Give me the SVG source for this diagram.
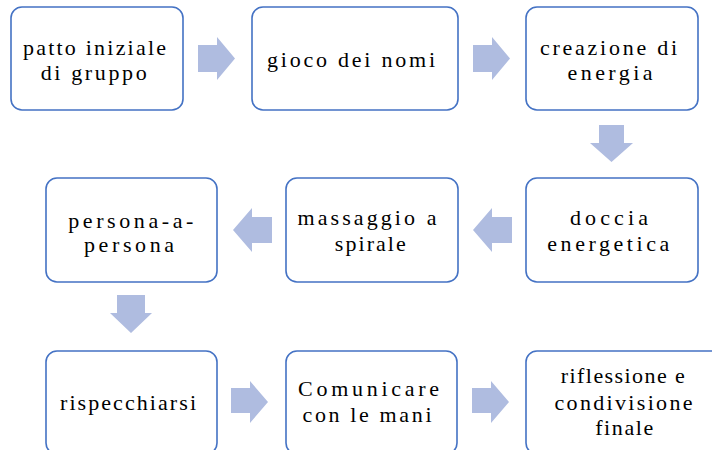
<svg xmlns="http://www.w3.org/2000/svg" width="712" height="450" viewBox="0 0 712 450">
<style>
.box{fill:#fff;stroke:#4472C4;stroke-width:1.6}
.arr{fill:#AFBCE0}
text{font-size:22px;fill:#000;text-anchor:middle}
</style>
<rect width="712" height="450" fill="#fff"/>
<g id="connectors">
<polygon class="arr" points="198,45 217,45 217,37 235,58.5 217,80 217,72 198,72"/>
<polygon class="arr" points="473,45 492,45 492,37 510,58.5 492,80 492,72 473,72"/>
<polygon class="arr" points="599,125 624,125 624,143 633,143 611.5,162 590,143 599,143"/>
<polygon class="arr" points="512,217 492,217 492,208 473,230 492,252 492,243 512,243"/>
<polygon class="arr" points="272,217 252,217 252,208 233,230 252,252 252,243 272,243"/>
<polygon class="arr" points="117,295 145,295 145,313 152,313 131,333 110,313 117,313"/>
<polygon class="arr" points="231,388 250,388 250,381 268,402 250,423 250,413 231,413"/>
<polygon class="arr" points="472,388 491,388 491,381 509,402 491,423 491,413 472,413"/>
</g>
<g font-family="Liberation Serif, Tinos, Times New Roman, Times, DejaVu Serif, Noto Serif, serif">
<g id="n1"><rect class="box" x="11" y="7" width="172" height="103" rx="11"/>
<text x="94.5" y="55" textLength="143" lengthAdjust="spacing">patto iniziale</text>
<text x="93.7" y="80" textLength="106" lengthAdjust="spacing">di gruppo</text></g>
<g id="n2"><rect class="box" x="252" y="7" width="206" height="103" rx="11"/>
<text x="351" y="67" textLength="168" lengthAdjust="spacing">gioco dei nomi</text></g>
<g id="n3"><rect class="box" x="526" y="7" width="172" height="103" rx="11"/>
<text x="608.5" y="54.5" textLength="137" lengthAdjust="spacing">creazione di</text>
<text x="610" y="79.5" textLength="85" lengthAdjust="spacing">energia</text></g>
<g id="n4"><rect class="box" x="526" y="178" width="172" height="104" rx="11"/>
<text x="609" y="225" textLength="78" lengthAdjust="spacing">doccia</text>
<text x="608.3" y="250.7" textLength="122" lengthAdjust="spacing">energetica</text></g>
<g id="n5"><rect class="box" x="286" y="178" width="172" height="104" rx="11"/>
<text x="367" y="225" textLength="139" lengthAdjust="spacing">massaggio a</text>
<text x="370.3" y="250.7" textLength="71" lengthAdjust="spacing">spirale</text></g>
<g id="n6"><rect class="box" x="46" y="178" width="171" height="104" rx="11"/>
<text x="130.8" y="228.3" textLength="125" lengthAdjust="spacing">persona-a-</text>
<text x="129" y="252.3" textLength="90" lengthAdjust="spacing">persona</text></g>
<g id="n7"><rect class="box" x="46" y="351" width="171" height="103" rx="11"/>
<text x="128" y="410" textLength="136" lengthAdjust="spacing">rispecchiarsi</text></g>
<g id="n8"><rect class="box" x="286" y="351" width="171" height="103" rx="11"/>
<text x="368.6" y="396" textLength="141" lengthAdjust="spacing">Comunicare</text>
<text x="367" y="421.7" textLength="129" lengthAdjust="spacing">con le mani</text></g>
<g id="n9"><rect class="box" x="526" y="351" width="206" height="103" rx="11"/>
<text x="622.8" y="383.3" textLength="124" lengthAdjust="spacing">riflessione e</text>
<text x="623.5" y="410" textLength="138" lengthAdjust="spacing">condivisione</text>
<text x="624.2" y="435" textLength="58" lengthAdjust="spacing">finale</text></g>
</g>
</svg>
